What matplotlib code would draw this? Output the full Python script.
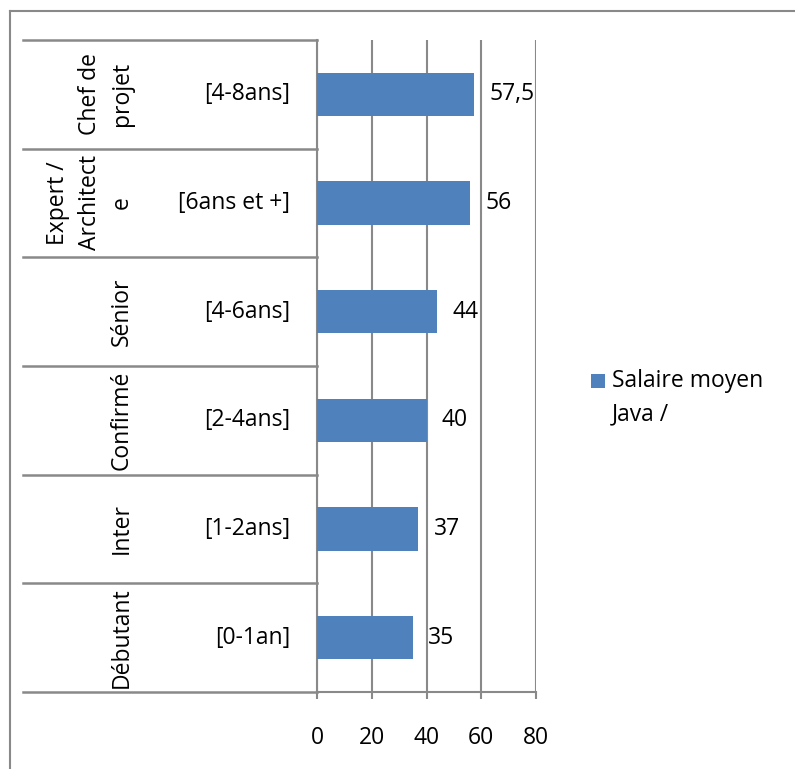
import matplotlib
matplotlib.use("Agg")
import matplotlib.pyplot as plt
from matplotlib.lines import Line2D
from matplotlib.patches import Rectangle

# Data
levels = ["Débutant", "Inter", "Confirmé", "Sénior", "Expert /\nArchitect\ne", "Chef de\nprojet"]
ranges = ["[0-1an]", "[1-2ans]", "[2-4ans]", "[4-6ans]", "[6ans et +]", "[4-8ans]"]
salaries = [35, 37, 40, 44, 56, 57.5]
value_labels = ["35", "37", "40", "44", "56", "57,5"]
series_name = "Salaire moyen\nJava /"
xticks = [0, 20, 40, 60, 80]

plt.rcParams['font.family'] = ['Open Sans', 'DejaVu Sans']
FS = 16.5
BLUE = "#4F81BD"
GRAY = "#898989"

W, H = 795, 769
fig = plt.figure(figsize=(W / 100, H / 100), dpi=100)

# outer frame (top and left lines)
fig.add_artist(Line2D([10 / W, 1], [1 - 11 / H, 1 - 11 / H], transform=fig.transFigure, color=GRAY, lw=1.5))
fig.add_artist(Line2D([10 / W, 10 / W], [0, 1 - 11 / H], transform=fig.transFigure, color=GRAY, lw=1.5))

x0, x1 = 317, 536
y_top, y_bot = 40, 692
ax = fig.add_axes([x0 / W, (H - y_bot) / H, (x1 - x0) / W, (y_bot - y_top) / H])

ypos = list(range(len(salaries)))
ax.barh(ypos, salaries, height=0.4, color=BLUE, zorder=3)
ax.set_xlim(0, 80)
ax.set_ylim(-0.5, len(salaries) - 0.5)
ax.set_xticks(xticks)
ax.set_xticklabels([str(t) for t in xticks], fontsize=FS)
ax.tick_params(axis='x', direction='out', length=5, width=1.5, color=GRAY, pad=19.5)
ax.set_yticks([])
ax.grid(axis='x', color=GRAY, lw=1.5, zorder=0)
for s in ['top', 'right']:
    ax.spines[s].set_visible(False)
for s in ['left', 'bottom']:
    ax.spines[s].set_color(GRAY)
    ax.spines[s].set_linewidth(1.5)

# value labels
for y, v, lab in zip(ypos, salaries, value_labels):
    ax.annotate(lab, (v, y), xytext=(11, 0), textcoords='offset points',
                ha='left', va='center', fontsize=FS, zorder=4)

# category separators and labels
ytr = ax.get_yaxis_transform()
sep_left = (23 - x0) / (x1 - x0)
for b in [i - 0.5 for i in range(len(salaries) + 1)]:
    ax.plot([sep_left, 0], [b, b], transform=ytr, color=GRAY, lw=1.8, clip_on=False, zorder=1)

range_x = (290 - x0) / (x1 - x0)
level_x = (134 - x0) / (x1 - x0)
for y, r, lv in zip(ypos, ranges, levels):
    ax.text(range_x, y, r, transform=ytr, ha='right', va='center', fontsize=FS)
    ax.text(level_x, y, lv, transform=ytr, ha='right', va='center', rotation=90,
            multialignment='center', fontsize=FS, linespacing=1.45)

# legend
fig.add_artist(Rectangle((591 / W, 1 - 388 / H), 14 / W, 14 / H, transform=fig.transFigure,
                         facecolor=BLUE, edgecolor='none'))
fig.text(612 / W, 1 - 369 / H, series_name, ha='left', va='top', fontsize=FS,
         linespacing=1.5, transform=fig.transFigure)

fig.savefig("out.png", dpi=100)
